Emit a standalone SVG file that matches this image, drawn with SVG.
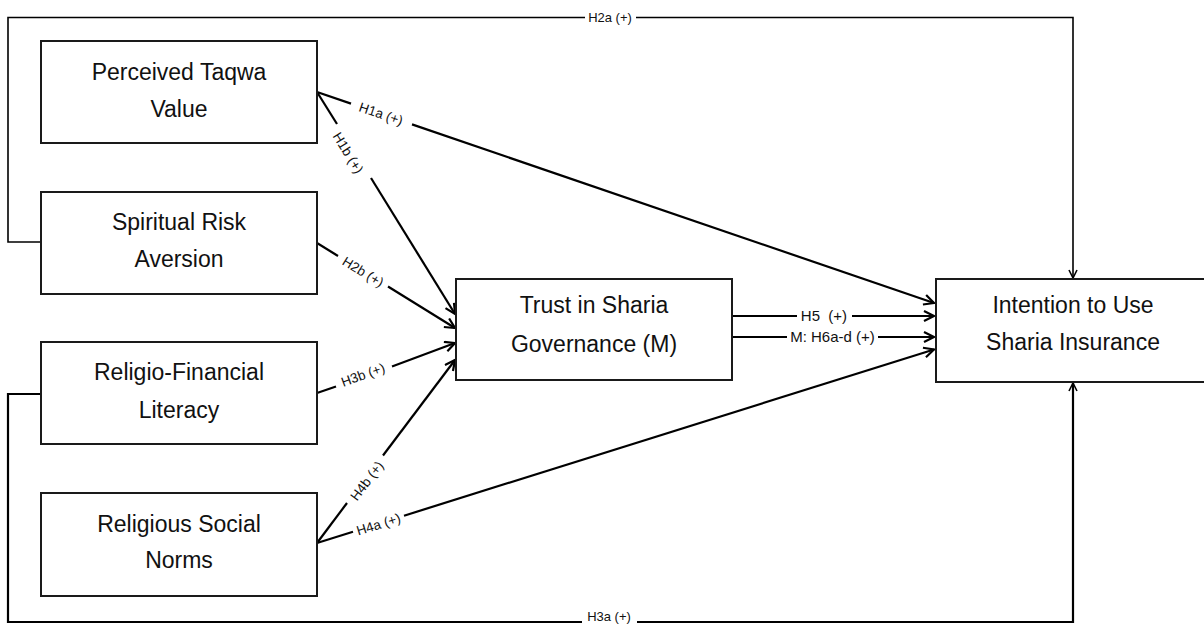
<svg xmlns="http://www.w3.org/2000/svg" width="1204" height="625" viewBox="0 0 1204 625">
<style>
.box{fill:#fff;stroke:#1a1a1a;stroke-width:2}
.nt{font-family:"Liberation Sans",Arial,sans-serif;font-size:23px;fill:#111;text-anchor:middle}
.lb{font-family:"Liberation Sans",Arial,sans-serif;font-size:13.5px;fill:#111;text-anchor:middle}
.lm{font-family:"Liberation Sans",Arial,sans-serif;font-size:15px;fill:#111;text-anchor:middle}
.ls{font-family:"Liberation Sans",Arial,sans-serif;font-size:13px;fill:#111;text-anchor:middle}
.ln{fill:none;stroke:#000;stroke-width:2.2}
.lt{fill:none;stroke:#000;stroke-width:1.6}
</style>
<defs>
<marker id="ah" markerUnits="userSpaceOnUse" markerWidth="14" markerHeight="14" refX="11" refY="6" orient="auto">
<path d="M1,1 L11,6 L1,11" fill="none" stroke="#000" stroke-width="2.2"/>
</marker>
<marker id="ahs" markerUnits="userSpaceOnUse" markerWidth="12" markerHeight="12" refX="9" refY="5" orient="auto">
<path d="M1,1 L9,5 L1,9" fill="none" stroke="#000" stroke-width="1.6"/>
</marker>
</defs>
<g id="connectors">
<!-- top loop H2a -->
<polyline class="lt" points="41,242 8,242 8,17.5 585,17.5"/>
<polyline class="lt" points="636,17.5 1073,17.5 1073,278" marker-end="url(#ahs)"/>
<text class="ls" x="610" y="22">H2a (+)</text>
<!-- bottom loop H3a -->
<polyline class="ln" points="41,394 8,394 8,622 582,622"/>
<polyline class="ln" points="637,622 1073,622 1073,383" marker-end="url(#ahs)"/>
<text class="ls" x="609" y="621">H3a (+)</text>
<!-- H1a -->
<line class="ln" x1="317" y1="92" x2="351" y2="103.6"/>
<line class="ln" x1="412" y1="124.4" x2="934" y2="303" marker-end="url(#ah)"/>
<text class="lb" transform="translate(381,114) rotate(18.8)" y="4.5">H1a (+)</text>
<!-- H1b -->
<line class="ln" x1="317" y1="92" x2="337" y2="124"/>
<line class="ln" x1="371" y1="178" x2="455" y2="314" marker-end="url(#ah)"/>
<text class="lb" transform="translate(348,153) rotate(58.2)" y="4.5">H1b (+)</text>
<!-- H2b -->
<line class="ln" x1="317" y1="243" x2="338" y2="256"/>
<line class="ln" x1="388" y1="286.5" x2="455" y2="328" marker-end="url(#ah)"/>
<text class="lb" transform="translate(363,272) rotate(31.4)" y="4.5">H2b (+)</text>
<!-- H3b -->
<line class="ln" x1="317" y1="393" x2="336" y2="386.5"/>
<line class="ln" x1="392" y1="366.5" x2="455" y2="343" marker-end="url(#ah)"/>
<text class="lb" transform="translate(363,375) rotate(-19.8)" y="4.5">H3b (+)</text>
<!-- H4b -->
<line class="ln" x1="317" y1="543" x2="347" y2="503"/>
<line class="ln" x1="383" y1="455.5" x2="455" y2="360" marker-end="url(#ah)"/>
<text class="lb" transform="translate(367,481) rotate(-53)" y="4.5">H4b (+)</text>
<!-- H4a -->
<line class="ln" x1="317" y1="543" x2="353" y2="531.7"/>
<line class="ln" x1="404" y1="515.7" x2="934" y2="349.5" marker-end="url(#ah)"/>
<text class="lb" transform="translate(378.5,524.5) rotate(-17.4)" y="4.5">H4a (+)</text>
<!-- H5 -->
<line class="ln" x1="732" y1="316" x2="797" y2="316"/>
<line class="ln" x1="852" y1="316" x2="934" y2="316" marker-end="url(#ah)"/>
<text class="lm" x="824" y="321" xml:space="preserve">H5  (+)</text>
<!-- M: H6a-d -->
<line class="ln" x1="732" y1="337" x2="787" y2="337"/>
<line class="ln" x1="878" y1="337" x2="934" y2="337" marker-end="url(#ah)"/>
<text class="lm" x="832.5" y="342">M: H6a-d (+)</text>
</g>
<g id="node-taqwa">
<rect class="box" x="41" y="41" width="276" height="102"/>
<text class="nt" x="179" y="80">Perceived Taqwa</text>
<text class="nt" x="179" y="117">Value</text>
</g>
<g id="node-risk">
<rect class="box" x="41" y="192" width="276" height="102"/>
<text class="nt" x="179" y="230">Spiritual Risk</text>
<text class="nt" x="179" y="267">Aversion</text>
</g>
<g id="node-literacy">
<rect class="box" x="41" y="342" width="276" height="102"/>
<text class="nt" x="179" y="380">Religio-Financial</text>
<text class="nt" x="179" y="418">Literacy</text>
</g>
<g id="node-norms">
<rect class="box" x="41" y="493" width="276" height="103"/>
<text class="nt" x="179" y="532">Religious Social</text>
<text class="nt" x="179" y="568">Norms</text>
</g>
<g id="node-trust">
<rect class="box" x="456" y="279" width="276" height="101"/>
<text class="nt" x="594" y="313">Trust in Sharia</text>
<text class="nt" x="594" y="352">Governance (M)</text>
</g>
<g id="node-intention">
<rect class="box" x="936" y="279" width="276" height="103"/>
<text class="nt" x="1073" y="313">Intention to Use</text>
<text class="nt" x="1073" y="350">Sharia Insurance</text>
</g>
</svg>
